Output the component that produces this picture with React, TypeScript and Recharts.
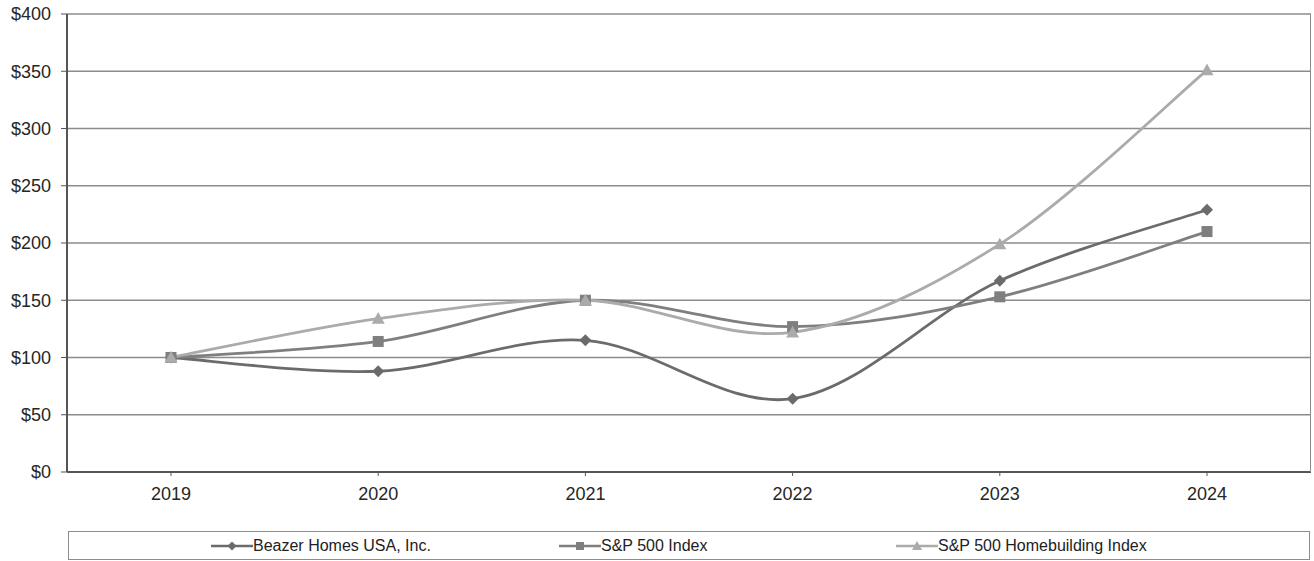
import React from 'react';
import { LineChart, Line, XAxis, YAxis, CartesianGrid } from 'recharts';

const years = ['2019', '2020', '2021', '2022', '2023', '2024'];
const beazer = [100, 88, 115, 64, 167, 229];
const sp500 = [100, 114, 150, 127, 153, 210];
const homebuilding = [100, 134, 150, 122, 199, 351];
const yTicks = [0, 50, 100, 150, 200, 250, 300, 350, 400];

const series = [
  { key: 'beazer', name: 'Beazer Homes USA, Inc.', color: '#6b6b6b', shape: 'diamond' },
  { key: 'sp500', name: 'S&P 500 Index', color: '#7f7f7f', shape: 'square' },
  { key: 'homebuilding', name: 'S&P 500 Homebuilding Index', color: '#ababab', shape: 'triangle' },
];

const data = years.map((year, i) => ({
  year,
  beazer: beazer[i],
  sp500: sp500[i],
  homebuilding: homebuilding[i],
}));

// Excel-style smoothed line (Catmull-Rom as cubic beziers)
const excelCurve = (context: any) => {
  let pts: number[][] = [];
  return {
    areaStart() {},
    areaEnd() {},
    lineStart() {
      pts = [];
    },
    point(x: number, y: number) {
      pts.push([+x, +y]);
    },
    lineEnd() {
      if (!pts.length) return;
      context.moveTo(pts[0][0], pts[0][1]);
      for (let i = 0; i < pts.length - 1; i++) {
        const p0 = pts[i - 1] || pts[i];
        const p1 = pts[i];
        const p2 = pts[i + 1];
        const p3 = pts[i + 2] || p2;
        context.bezierCurveTo(
          p1[0] + (p2[0] - p0[0]) / 6,
          p1[1] + (p2[1] - p0[1]) / 6,
          p2[0] - (p3[0] - p1[0]) / 6,
          p2[1] - (p3[1] - p1[1]) / 6,
          p2[0],
          p2[1]
        );
      }
    },
  };
};

const Marker = ({ cx, cy, shape, color, size = 6 }: any) => {
  if (cx == null || cy == null) return null;
  if (shape === 'diamond') {
    const s = size;
    return <path d={`M${cx},${cy - s}L${cx + s},${cy}L${cx},${cy + s}L${cx - s},${cy}Z`} fill={color} />;
  }
  if (shape === 'square') {
    const s = size - 0.5;
    return <rect x={cx - s} y={cy - s} width={s * 2} height={s * 2} fill={color} />;
  }
  const s = size + 0.5;
  return <path d={`M${cx},${cy - s}L${cx + s},${cy + s * 0.8}L${cx - s},${cy + s * 0.8}Z`} fill={color} />;
};

const font = '"Liberation Sans", Arial, sans-serif';
const legendLeft = [142, 490, 827];

export default function App() {
  return (
    <div style={{ position: 'absolute', left: 0, top: 0, width: 1314, height: 561, background: '#fff', fontFamily: font }}>
      <LineChart width={1314} height={561} data={data} margin={{ top: 14, right: 3, left: 0, bottom: 59 }}>
        <CartesianGrid vertical={false} stroke="#8c8c8c" strokeWidth={1.5} />
        <XAxis
          dataKey="year"
          padding={{ left: 104, right: 104 }}
          axisLine={{ stroke: '#555', strokeWidth: 2 }}
          tickLine={{ stroke: '#555' }}
          tickSize={4}
          height={30}
          tick={{ fill: '#262626', fontSize: 18, fontFamily: font, dy: 9 }}
        />
        <YAxis
          domain={[0, 400]}
          ticks={yTicks}
          width={67}
          interval={0}
          axisLine={{ stroke: '#555', strokeWidth: 2 }}
          tickLine={{ stroke: '#555' }}
          tickSize={6}
          tickFormatter={(v: number) => `$${v}`}
          tick={{ fill: '#262626', fontSize: 18, fontFamily: font, dx: -8 }}
        />
        {series.map((s) => (
          <Line
            key={s.key}
            dataKey={s.key}
            name={s.name}
            type={excelCurve as any}
            stroke={s.color}
            strokeWidth={2.8}
            dot={(p: any) => <Marker key={`${s.key}-${p.index}`} cx={p.cx} cy={p.cy} shape={s.shape} color={s.color} />}
            activeDot={false}
            isAnimationActive={false}
          />
        ))}
      </LineChart>
      {/* right border of plot area */}
      <div style={{ position: 'absolute', left: 1309.5, top: 14, width: 1.5, height: 458, background: '#8c8c8c' }} />
      <div
        style={{
          position: 'absolute',
          left: 68,
          top: 531,
          width: 1242,
          height: 29,
          border: '1.5px solid #8c8c8c',
          boxSizing: 'border-box',
        }}
      >
        {series.map((s, i) => (
          <div
            key={s.key}
            style={{ position: 'absolute', left: legendLeft[i], top: 5, display: 'flex', alignItems: 'center', fontSize: 16, color: '#222' }}
          >
            <svg width={42} height={18}>
              <line x1={0} y1={9} x2={42} y2={9} stroke={s.color} strokeWidth={2.5} />
              <Marker cx={21} cy={9} shape={s.shape} color={s.color} size={4.5} />
            </svg>
            <span>{s.name}</span>
          </div>
        ))}
      </div>
    </div>
  );
}
